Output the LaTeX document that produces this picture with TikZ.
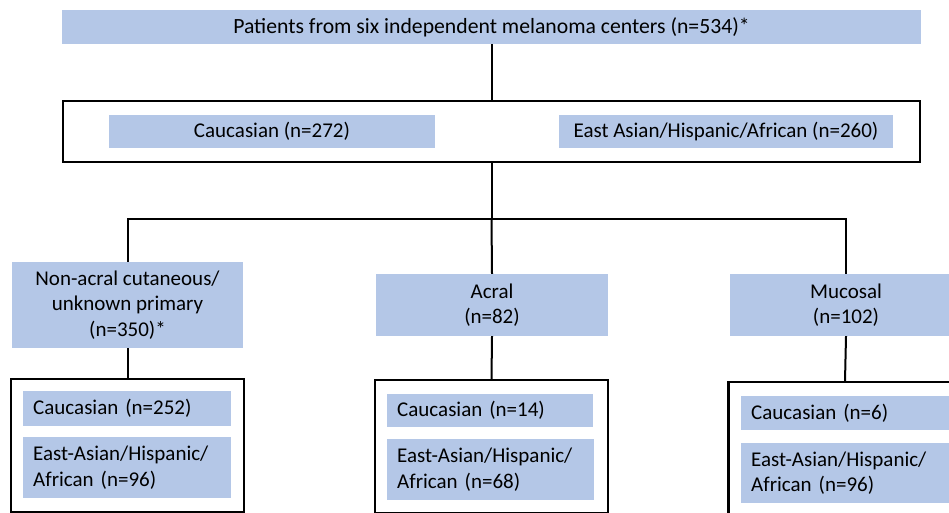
\documentclass[tikz,border=0pt]{standalone}
\usepackage{fontspec}
\setmainfont{Carlito}
\definecolor{boxblue}{HTML}{B4C7E7}
\tikzset{
  bluebox/.style={fill=boxblue, draw=none, inner sep=0pt, align=center, font=\fontsize{21}{25.5}\selectfont},
  leftbox/.style={fill=boxblue, draw=none, inner xsep=10pt, inner ysep=0pt, align=left, font=\fontsize{21}{25.5}\selectfont, anchor=west},
  frame/.style={draw=black, line width=2.4pt, fill=white, inner sep=0pt},
  conn/.style={draw=black, line width=2pt}
}
\begin{document}
\begin{tikzpicture}[x=1pt,y=-1pt]
\clip (0,0) rectangle (949,513);
\fill[white] (0,0) rectangle (949,513);
% top
\node[bluebox, font=\fontsize{21.7}{26}\selectfont, minimum width=859pt, minimum height=34pt] (top) at (491.5,27) {Patients from six independent melanoma centers (n=534)*};
% middle frame
\node[frame, minimum width=857pt, minimum height=61pt] (mid) at (491.5,131.5) {};
\node[bluebox, minimum width=326pt, minimum height=33pt] (cau1) at (272,131.5) {Caucasian (n=272)};
\node[bluebox, minimum width=334pt, minimum height=33pt] (eas1) at (726,131.5) {East Asian/Hispanic/African (n=260)};
% categories
\node[bluebox, minimum width=231pt, minimum height=86pt] (nonacral) at (127.5,305) {Non-acral cutaneous/\\unknown primary\\(n=350)*};
\node[bluebox, minimum width=232pt, minimum height=62pt] (acral) at (492,305) {Acral\\(n=82)};
\node[bluebox, minimum width=232pt, minimum height=62pt] (mucosal) at (846,305) {Mucosal\\(n=102)};
% bottom frames
\node[frame, minimum width=233pt, minimum height=133pt] (fL) at (127.5,445.5) {};
\node[frame, minimum width=233pt, minimum height=133pt] (fM) at (491.5,446.5) {};
\node[frame, minimum width=233pt, minimum height=133pt] (fR) at (845,448.5) {};
% inner bottom boxes
\node[leftbox, text width=188pt, minimum height=35pt] (cauL) at (23,408.5) {Caucasian (n=252)};
\node[leftbox, text width=188pt, minimum height=61pt] (easL) at (23,467.5) {East-Asian/Hispanic/\\African (n=96)};
\node[leftbox, text width=186pt, minimum height=33pt] (cauM) at (387,410.5) {Caucasian (n=14)};
\node[leftbox, text width=187pt, minimum height=61pt] (easM) at (387,469.5) {East-Asian/Hispanic/\\African (n=68)};
\node[leftbox, text width=188pt, minimum height=34pt] (cauR) at (741,413) {Caucasian (n=6)};
\node[leftbox, text width=188pt, minimum height=60pt] (easR) at (741,473) {East-Asian/Hispanic/\\African (n=96)};
% connectors
\coordinate (split) at (491.5,219);
\draw[conn] (top.south) -- (mid.north);
\draw[conn] (mid.south) -- (split);
\draw[conn] (nonacral.north) |- (split) -| (mucosal.north);
\draw[conn] (split) -- (acral.north);
\draw[conn] (nonacral.south) -- (fL.north);
\draw[conn] (acral.south) -- (fM.north);
\draw[conn] (mucosal.south) -- (fR.north);
\end{tikzpicture}
\end{document}
